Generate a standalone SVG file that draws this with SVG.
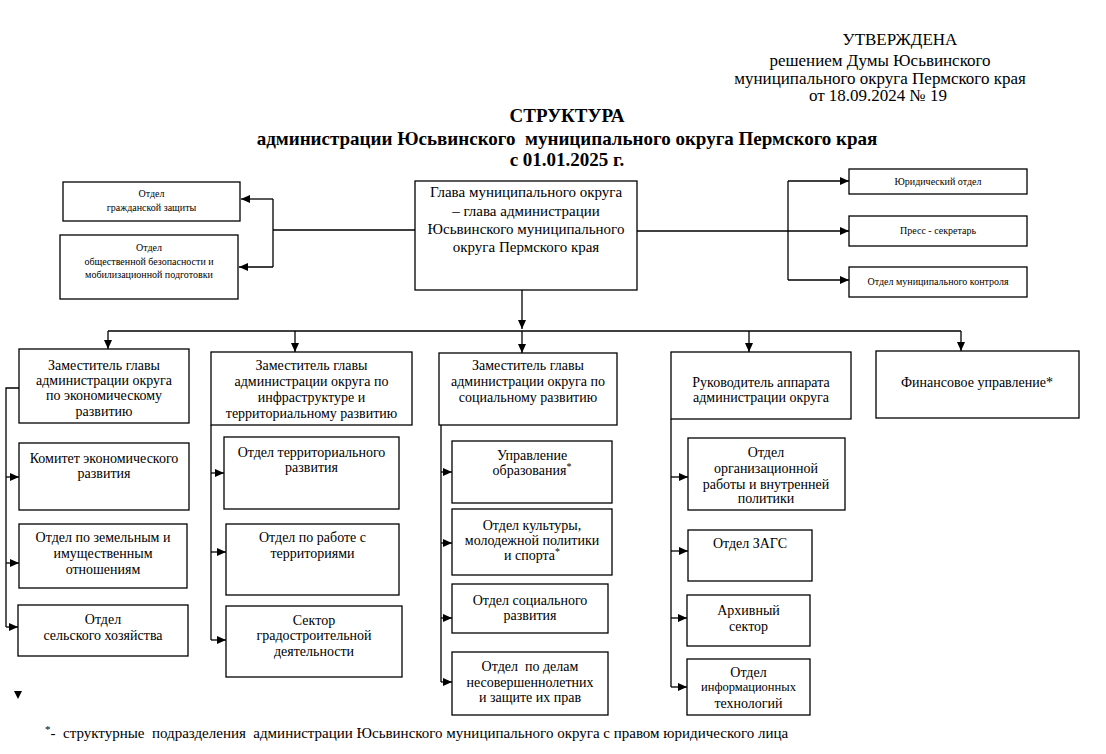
<svg xmlns="http://www.w3.org/2000/svg" width="1106" height="754" viewBox="0 0 1106 754">
<style>
.t{font-family:"Liberation Serif","Times New Roman",serif;fill:#000;text-anchor:middle}
.h{font-size:17px}
.ti{font-size:19px;font-weight:bold}
.g{font-size:15px}
.m{font-size:14px}
.s{font-size:10px}
.box{fill:#fff;stroke:#000;stroke-width:1.3}
.ln{fill:none;stroke:#000;stroke-width:1.3}
</style>
<defs>
<marker id="ar" markerUnits="userSpaceOnUse" markerWidth="9" markerHeight="8" refX="9" refY="4" orient="auto">
<path d="M0,0 L9,4 L0,8 z" fill="#000"/>
</marker>
</defs>
<rect width="1106" height="754" fill="#fff"/>

<g id="header">
<text class="t h" x="900" y="45">УТВЕРЖДЕНА</text>
<text class="t h" x="880" y="66">решением Думы Юсьвинского</text>
<text class="t h" x="880" y="84">муниципального округа Пермского края</text>
<text class="t h" x="878" y="101">от 18.09.2024 № 19</text>
</g>
<g id="title">
<text class="t ti" x="567" y="122">СТРУКТУРА</text>
<text class="t ti" x="567" y="145" style="white-space:pre">администрации Юсьвинского  муниципального округа Пермского края</text>
<text class="t ti" x="567" y="166">с 01.01.2025 г.</text>
</g>

<g id="connectors">
<path class="ln" d="M415,230 H273 M273,199 V267"/>
<path class="ln" d="M273,199 H241" marker-end="url(#ar)"/>
<path class="ln" d="M273,267 H239" marker-end="url(#ar)"/>
<path class="ln" d="M637,231 H849" marker-end="url(#ar)"/>
<path class="ln" d="M788,181 V280"/>
<path class="ln" d="M788,181 H849" marker-end="url(#ar)"/>
<path class="ln" d="M788,280 H849" marker-end="url(#ar)"/>
<path class="ln" d="M522,290 V329" marker-end="url(#ar)"/>
<path class="ln" d="M108,331 H961"/>
<path class="ln" d="M108,331 V349" marker-end="url(#ar)"/>
<path class="ln" d="M295,331 V352" marker-end="url(#ar)"/>
<path class="ln" d="M522,331 V353" marker-end="url(#ar)"/>
<path class="ln" d="M749,331 V352" marker-end="url(#ar)"/>
<path class="ln" d="M961,331 V351" marker-end="url(#ar)"/>
<path class="ln" d="M19,388 H6 V627"/>
<path class="ln" d="M6,477 H19" marker-end="url(#ar)"/>
<path class="ln" d="M6,563 H19" marker-end="url(#ar)"/>
<path class="ln" d="M6,627 H18" marker-end="url(#ar)"/>
<path class="ln" d="M211,425 V640"/>
<path class="ln" d="M211,473 H224" marker-end="url(#ar)"/>
<path class="ln" d="M211,552 H226" marker-end="url(#ar)"/>
<path class="ln" d="M211,640 H226" marker-end="url(#ar)"/>
<path class="ln" d="M441,425 V682"/>
<path class="ln" d="M441,472 H452" marker-end="url(#ar)"/>
<path class="ln" d="M441,543 H452" marker-end="url(#ar)"/>
<path class="ln" d="M441,618 H452" marker-end="url(#ar)"/>
<path class="ln" d="M441,682 H452" marker-end="url(#ar)"/>
<path class="ln" d="M671,419 V687"/>
<path class="ln" d="M671,477 H688" marker-end="url(#ar)"/>
<path class="ln" d="M671,551 H688" marker-end="url(#ar)"/>
<path class="ln" d="M671,618 H687" marker-end="url(#ar)"/>
<path class="ln" d="M671,687 H687" marker-end="url(#ar)"/>
<path d="M14,691 L22,691 L18,699 z" fill="#000"/>
</g>

<g id="glava">
<rect class="box" x="415" y="181" width="222" height="109"/>
<text class="t g" x="526" y="197">Глава муниципального округа</text>
<text class="t g" x="526" y="216">– глава администрации</text>
<text class="t g" x="526" y="234">Юсьвинского муниципального</text>
<text class="t g" x="526" y="252">округа Пермского края</text>
</g>
<g id="grazhd">
<rect class="box" x="63" y="182" width="177" height="39"/>
<text class="t s" x="151.5" y="196.5">Отдел</text>
<text class="t s" x="151.5" y="210.5">гражданской защиты</text>
</g>
<g id="obshch">
<rect class="box" x="60" y="235" width="178" height="64"/>
<text class="t s" x="149" y="250.5">Отдел</text>
<text class="t s" x="149" y="264.5">общественной безопасности и</text>
<text class="t s" x="149" y="277.5">мобилизационной подготовки</text>
</g>
<g id="yurid">
<rect class="box" x="849" y="169" width="178" height="25"/>
<text class="t s" x="938" y="185">Юридический отдел</text>
</g>
<g id="press">
<rect class="box" x="849" y="216" width="178" height="30"/>
<text class="t s" x="938" y="234">Пресс - секретарь</text>
</g>
<g id="kontrol">
<rect class="box" x="849" y="267" width="178" height="30"/>
<text class="t s" x="938" y="284.5">Отдел муниципального контроля</text>
</g>

<g id="zam-econ">
<rect class="box" x="19" y="349" width="170" height="74"/>
<text class="t m" x="104" y="370">Заместитель главы</text>
<text class="t m" x="104" y="385">администрации округа</text>
<text class="t m" x="104" y="400">по экономическому</text>
<text class="t m" x="104" y="416">развитию</text>
</g>
<g id="zam-infra">
<rect class="box" x="211" y="352" width="201" height="73"/>
<text class="t m" x="311.5" y="370">Заместитель главы</text>
<text class="t m" x="311.5" y="386">администрации округа по</text>
<text class="t m" x="311.5" y="402">инфраструктуре и</text>
<text class="t m" x="311.5" y="418">территориальному развитию</text>
</g>
<g id="zam-soc">
<rect class="box" x="439" y="353" width="178" height="72"/>
<text class="t m" x="528" y="370">Заместитель главы</text>
<text class="t m" x="528" y="386">администрации округа по</text>
<text class="t m" x="528" y="402">социальному развитию</text>
</g>
<g id="rukovod">
<rect class="box" x="671" y="352" width="180" height="67"/>
<text class="t m" x="761" y="387">Руководитель аппарата</text>
<text class="t m" x="761" y="402">администрации округа</text>
</g>
<g id="finans">
<rect class="box" x="876" y="351" width="203" height="67"/>
<text class="t m" x="977" y="387">Финансовое управление*</text>
</g>

<g id="komitet">
<rect class="box" x="19" y="443" width="170" height="67"/>
<text class="t m" x="104" y="463">Комитет экономического</text>
<text class="t m" x="104" y="478">развития</text>
</g>
<g id="zemel">
<rect class="box" x="19" y="524" width="168" height="64"/>
<text class="t m" x="103" y="542">Отдел по земельным и</text>
<text class="t m" x="103" y="558">имущественным</text>
<text class="t m" x="103" y="574">отношениям</text>
</g>
<g id="selsk">
<rect class="box" x="18" y="605" width="170" height="51"/>
<text class="t m" x="103" y="624">Отдел</text>
<text class="t m" x="103" y="640">сельского хозяйства</text>
</g>

<g id="terr-razv">
<rect class="box" x="224" y="437" width="175" height="72"/>
<text class="t m" x="311.5" y="457">Отдел территориального</text>
<text class="t m" x="311.5" y="472">развития</text>
</g>
<g id="rabota-terr">
<rect class="box" x="226" y="524" width="173" height="71"/>
<text class="t m" x="312.5" y="542">Отдел по работе с</text>
<text class="t m" x="312.5" y="558">территориями</text>
</g>
<g id="sektor-grad">
<rect class="box" x="226" y="606" width="176" height="71"/>
<text class="t m" x="314" y="625">Сектор</text>
<text class="t m" x="314" y="640">градостроительной</text>
<text class="t m" x="314" y="656">деятельности</text>
</g>

<g id="obrazovanie">
<rect class="box" x="452" y="441" width="160" height="62"/>
<text class="t m" x="532" y="460">Управление</text>
<text class="t m" x="532" y="475">образования<tspan font-size="10" dy="-5">*</tspan></text>
</g>
<g id="kultura">
<rect class="box" x="452" y="509" width="160" height="66"/>
<text class="t m" x="532" y="530">Отдел культуры,</text>
<text class="t m" x="532" y="545">молодежной политики</text>
<text class="t m" x="532" y="560">и спорта<tspan font-size="10" dy="-5">*</tspan></text>
</g>
<g id="soc-razv">
<rect class="box" x="452" y="584" width="156" height="49"/>
<text class="t m" x="530" y="605">Отдел социального</text>
<text class="t m" x="530" y="620">развития</text>
</g>
<g id="nesovershen">
<rect class="box" x="452" y="652" width="156" height="63"/>
<text class="t m" x="530" y="671" style="white-space:pre">Отдел  по делам</text>
<text class="t m" x="530" y="687">несовершеннолетних</text>
<text class="t m" x="530" y="702">и защите их прав</text>
</g>

<g id="orgrabota">
<rect class="box" x="688" y="438" width="157" height="72"/>
<text class="t m" x="766" y="457">Отдел</text>
<text class="t m" x="766" y="473">организационной</text>
<text class="t m" x="766" y="489">работы и внутренней</text>
<text class="t m" x="766" y="503">политики</text>
</g>
<g id="zags">
<rect class="box" x="688" y="530" width="124" height="51"/>
<text class="t m" x="750" y="548">Отдел ЗАГС</text>
</g>
<g id="arhiv">
<rect class="box" x="687" y="595" width="123" height="51"/>
<text class="t m" x="748.5" y="615">Архивный</text>
<text class="t m" x="748.5" y="631">сектор</text>
</g>
<g id="it">
<rect class="box" x="687" y="659" width="123" height="56"/>
<text class="t m" x="748.5" y="677">Отдел</text>
<text class="t" x="748.5" y="691" font-size="12.5">информационных</text>
<text class="t m" x="748.5" y="708">технологий</text>
</g>

<g id="footnote">
<text class="t" x="45" y="738" font-size="15" style="text-anchor:start;white-space:pre"><tspan font-size="11" dy="-5">*</tspan><tspan dy="5">-  структурные  подразделения  администрации Юсьвинского муниципального округа с правом юридического лица</tspan></text>
</g>
</svg>
